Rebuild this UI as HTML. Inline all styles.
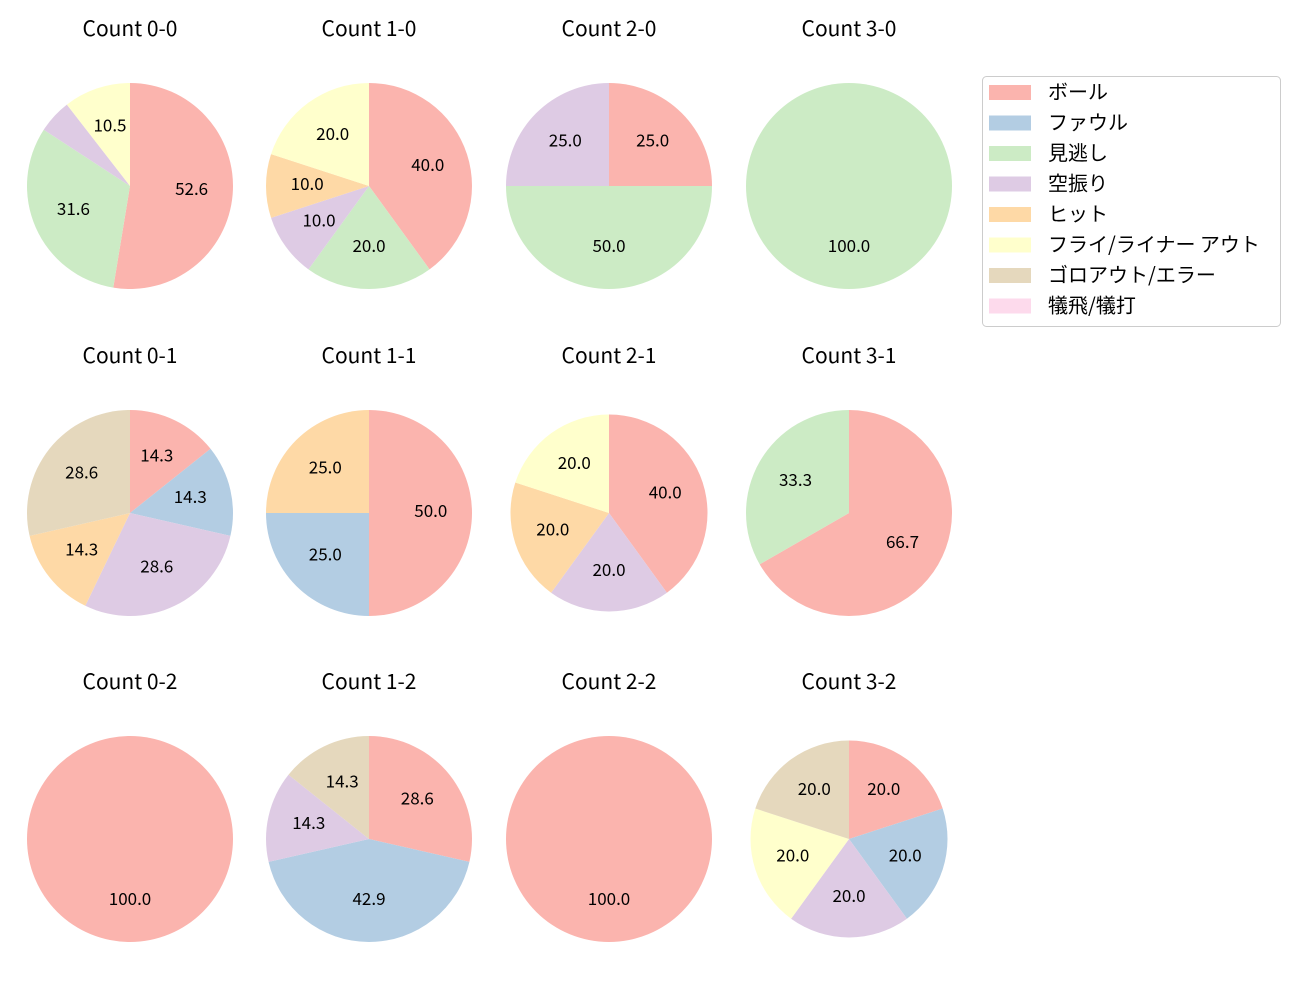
<!DOCTYPE html>
<html><head><meta charset="utf-8"><style>
body{margin:0;background:#fff;}
svg text{font-family:"Noto Sans CJK JP","Liberation Sans",sans-serif;fill:#000;}
</style></head><body>
<svg id="s" width="1300" height="1000" xmlns="http://www.w3.org/2000/svg"></svg>
<script>
const categories=["ボール","ファウル","見逃し","空振り","ヒット","フライ/ライナー アウト","ゴロアウト/エラー","犠飛/犠打"];
const colors=["#fbb4ae","#b3cde3","#ccebc5","#decbe4","#fed9a6","#ffffcc","#e5d8bd","#fddaec"];
const titles=["Count 0-0","Count 1-0","Count 2-0","Count 3-0","Count 0-1","Count 1-1","Count 2-1","Count 3-1","Count 0-2","Count 1-2","Count 2-2","Count 3-2"];
const v00=[52.6,0,31.6,5.3,0,10.5,0,0];
const v10=[40,0,20,10,10,20,0,0];
const v20=[25,0,50,25,0,0,0,0];
const v30=[0,0,100,0,0,0,0,0];
const v01=[14.3,14.3,0,28.6,14.3,0,28.6,0];
const v11=[50,25,0,0,25,0,0,0];
const v21=[40,0,0,20,20,20,0,0];
const v31=[66.7,0,33.3,0,0,0,0,0];
const v02=[100,0,0,0,0,0,0,0];
const v12=[28.6,42.9,0,14.3,0,0,14.3,0];
const v22=[100,0,0,0,0,0,0,0];
const v32=[20,20,0,20,0,20,20,0];
const series=[v00,v10,v20,v30,v01,v11,v21,v31,v02,v12,v22,v32];
const radii=[103,103,103,103,103,103,98.5,103,103,103,103,98.5];
const NS="http://www.w3.org/2000/svg";
const svg=document.getElementById('s');
function mk(t,a,p){const e=document.createElementNS(NS,t);for(const k in a)e.setAttribute(k,a[k]);(p||svg).appendChild(e);return e;}
const colX=[130,369,609,849], rowY=[186,513,839];
series.forEach((vals,i)=>{
  const cx=colX[i%4], cy=rowY[Math.floor(i/4)], r=radii[i];
  const g=mk('g',{});
  
  
  const tt=mk('text',{x:cx,y:cy-150,'text-anchor':'middle','font-size':'21'},g);
  
  
  tt.textContent=titles[i];
  const total=vals.reduce((a,b)=>a+b,0);
  let ang=90;
  vals.forEach((v,k)=>{
    if(v<=0)return;
    const sweep=v/total*360, a1=ang, a2=ang-sweep, mid=(a1+a2)/2;
    let el;
    if(sweep>=359.99){el=mk('circle',{cx:cx,cy:cy,r:r,fill:colors[k]},g);}
    else{
      const x1=cx+r*Math.cos(a1*Math.PI/180), y1=cy-r*Math.sin(a1*Math.PI/180);
      const x2=cx+r*Math.cos(a2*Math.PI/180), y2=cy-r*Math.sin(a2*Math.PI/180);
      el=mk('path',{d:`M${cx},${cy}L${x1},${y1}A${r},${r} 0 ${sweep>180?1:0} 1 ${x2},${y2}Z`,fill:colors[k]},g);
    }
    
    
    if(v/total*100>=10){
      const lx=cx+0.6*r*Math.cos(mid*Math.PI/180), ly=cy-0.6*r*Math.sin(mid*Math.PI/180);
      const t=mk('text',{x:lx,y:ly+4,'text-anchor':'middle','font-size':'17'},g);
      
      
      t.textContent=(v/total*100).toFixed(1);
    }
    ang=a2;
  });
});
const lg=mk('g',{});


mk('rect',{x:982.5,y:76.5,width:298,height:250,rx:4,fill:'#fff',stroke:'#ccc'},lg);
categories.forEach((c,k)=>{
  const y=92+k*30.5;
  const sw=mk('rect',{x:989,y:y-7,width:42,height:15,fill:colors[k]},lg);
  
  
  const t=mk('text',{x:1048,y:y+7,'font-size':'20'},lg);
  
  
  t.textContent=c;
});
</script>
</body></html>
